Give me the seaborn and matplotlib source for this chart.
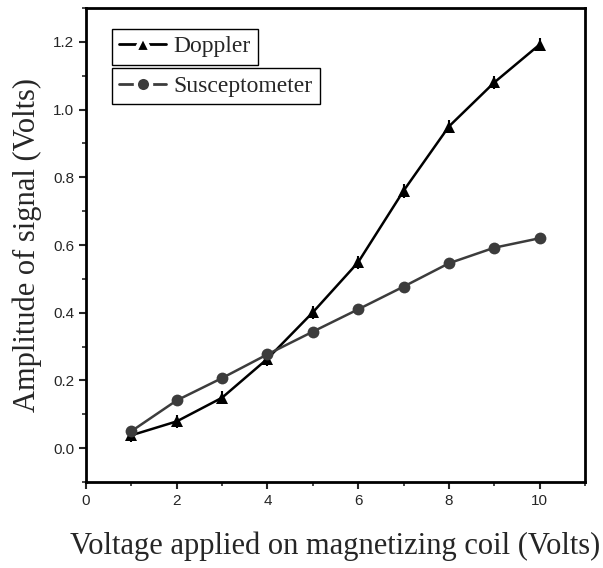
import numpy as np
import pandas as pd
import seaborn as sns
import matplotlib.pyplot as plt
from matplotlib.lines import Line2D
from matplotlib.ticker import MultipleLocator

voltage = [1, 2, 3, 4, 5, 6, 7, 8, 9, 10]
doppler = [0.038, 0.079, 0.149, 0.264, 0.401, 0.549, 0.760, 0.950, 1.080, 1.192]
suscept = [0.050, 0.141, 0.207, 0.277, 0.344, 0.410, 0.477, 0.546, 0.592, 0.620]
doppler_err = [0.02] * 10

df = pd.DataFrame({"volt": voltage * 2,
                   "amp": doppler + suscept,
                   "series": ["Doppler"] * 10 + ["Susceptometer"] * 10})

sns.set_style("ticks")
plt.rcParams['font.family'] = ['Liberation Sans', 'DejaVu Sans']

fig = plt.figure(figsize=(6.03, 5.68), dpi=100)
ax = fig.add_axes([0.1426, 0.1514, 0.8275, 0.8345])

ax.errorbar(voltage, doppler, yerr=doppler_err, fmt="none", ecolor="black",
            elinewidth=1.5, capsize=0, zorder=2)
sns.lineplot(data=df, x="volt", y="amp", hue="series", style="series",
             palette={"Doppler": "black", "Susceptometer": "#3c3c3c"},
             markers={"Doppler": "^", "Susceptometer": "o"},
             dashes=False, markersize=8.5, markeredgewidth=0, linewidth=1.8,
             legend=False, ax=ax, zorder=3)

ax.set_xlim(0, 11)
ax.set_ylim(-0.1, 1.3)
ax.xaxis.set_major_locator(MultipleLocator(2))
ax.xaxis.set_minor_locator(MultipleLocator(1))
ax.yaxis.set_major_locator(MultipleLocator(0.2))
ax.yaxis.set_minor_locator(MultipleLocator(0.1))
ax.set_xticks([0, 2, 4, 6, 8, 10])
ax.set_xticklabels(["0", "2", "4", "6", "8", "10"])
ax.set_yticks([0.0, 0.2, 0.4, 0.6, 0.8, 1.0, 1.2])
ax.set_yticklabels(["0.0", "0.2", "0.4", "0.6", "0.8", "1.0", "1.2"])
ax.tick_params(which="major", direction="out", length=5, width=1.5, labelsize=11)
ax.tick_params(which="minor", direction="out", length=3, width=1.2)
for s in ax.spines.values():
    s.set_linewidth(2)
    s.set_color("black")

serif = ['Liberation Serif', 'DejaVu Serif']
ax.set_xlabel("Voltage applied on magnetizing coil (Volts)", family=serif,
              fontsize=22, labelpad=17)
ax.set_ylabel("Amplitude of signal (Volts)", family=serif, fontsize=22, labelpad=8)

ln1 = Line2D([], [], color="black", linewidth=2)
mk1 = Line2D([], [], color="black", marker="^", markersize=12, linestyle="none",
             markeredgecolor="white", markeredgewidth=3)
ln2 = Line2D([], [], color="#3c3c3c", linewidth=2)
mk2 = Line2D([], [], color="#3c3c3c", marker="o", markersize=11, linestyle="none",
             markeredgecolor="white", markeredgewidth=3)
leg_kw = dict(prop={"family": serif, "size": 17}, fancybox=False,
              edgecolor="black", framealpha=1, handlelength=2.0,
              handletextpad=0.3, borderpad=0.3, borderaxespad=0)
leg1 = ax.legend([(ln1, mk1)], ["Doppler"], loc="upper left",
                 bbox_to_anchor=(0.052, 0.956), **leg_kw)
ax.add_artist(leg1)
leg2 = ax.legend([(ln2, mk2)], ["Susceptometer"], loc="upper left",
                 bbox_to_anchor=(0.052, 0.873), **leg_kw)
for lg in (leg1, leg2):
    lg.get_frame().set_linewidth(1.0)

fig.savefig("out.png", dpi=100)
